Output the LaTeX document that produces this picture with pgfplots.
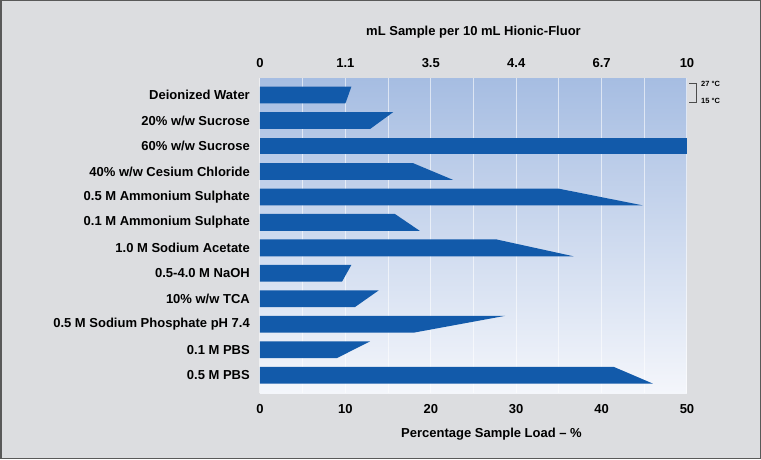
\documentclass[border=0pt]{standalone}
\usepackage{fontspec}
\setmainfont{Liberation Sans}
\usepackage{pgfplots}
\pgfplotsset{compat=1.18}
\definecolor{bgGray}{RGB}{220,221,224}
\definecolor{barBlue}{RGB}{18,90,170}
\definecolor{topBlue}{RGB}{166,189,226}
\definecolor{midBlue}{RGB}{200,213,237}
\definecolor{botBlue}{RGB}{244,246,251}
\begin{document}
\begin{tikzpicture}
\fill[bgGray] (0pt,0pt) rectangle (761pt,459pt);
\begin{axis}[
  at={(260pt,66pt)}, anchor=south west, scale only axis,
  width=427pt, height=315pt,
  xmin=0, xmax=50, ymin=0.33, ymax=12.7, y dir=reverse,
  axis line style={draw=none}, major tick length=0pt, minor tick length=0pt,
  axis background/.style={top color=topBlue, middle color=midBlue, bottom color=botBlue},
  xtick={0,10,20,30,40,50}, minor xtick={5,15,25,35,45},
  xmajorgrids, xminorgrids,
  major grid style={white, opacity=0.6, line width=1pt},
  minor grid style={white, opacity=0.6, line width=1pt},
  ytick={1,...,12},
  yticklabels={Deionized Water, 20\% w/w Sucrose, 60\% w/w Sucrose, 40\% w/w Cesium Chloride,
    0.5 M Ammonium Sulphate, 0.1 M Ammonium Sulphate, 1.0 M Sodium Acetate, 0.5-4.0 M NaOH,
    10\% w/w TCA, 0.5 M Sodium Phosphate pH 7.4, 0.1 M PBS, 0.5 M PBS},
  /pgf/number format/assume math mode=true,
  tick label style={font=\fontsize{13}{15}\selectfont\bfseries},
  yticklabel style={anchor=east, inner sep=0pt, xshift=-10pt},
  xticklabel style={inner sep=0pt, yshift=-11pt},
  xlabel={Percentage Sample Load -- \%},
  xlabel style={font=\fontsize{13}{15}\selectfont\bfseries, inner sep=0pt, yshift=-14pt, xshift=18pt},
]
\addplot[fill=barBlue, draw=none] coordinates {(0,0.67) (10.7,0.67) (10.0,1.33) (0,1.33)} -- cycle;
\addplot[fill=barBlue, draw=none] coordinates {(0,1.67) (15.6,1.67) (12.9,2.33) (0,2.33)} -- cycle;
\addplot[fill=barBlue, draw=none] coordinates {(0,2.67) (50,2.67) (50,3.33) (0,3.33)} -- cycle;
\addplot[fill=barBlue, draw=none] coordinates {(0,3.67) (17.9,3.67) (22.6,4.33) (0,4.33)} -- cycle;
\addplot[fill=barBlue, draw=none] coordinates {(0,4.67) (34.9,4.67) (44.8,5.33) (0,5.33)} -- cycle;
\addplot[fill=barBlue, draw=none] coordinates {(0,5.67) (15.8,5.67) (18.7,6.33) (0,6.33)} -- cycle;
\addplot[fill=barBlue, draw=none] coordinates {(0,6.67) (27.7,6.67) (36.7,7.33) (0,7.33)} -- cycle;
\addplot[fill=barBlue, draw=none] coordinates {(0,7.67) (10.7,7.67) (9.6,8.33) (0,8.33)} -- cycle;
\addplot[fill=barBlue, draw=none] coordinates {(0,8.67) (13.9,8.67) (11.1,9.33) (0,9.33)} -- cycle;
\addplot[fill=barBlue, draw=none] coordinates {(0,9.67) (28.7,9.67) (18.0,10.33) (0,10.33)} -- cycle;
\addplot[fill=barBlue, draw=none] coordinates {(0,10.67) (12.9,10.67) (9.0,11.33) (0,11.33)} -- cycle;
\addplot[fill=barBlue, draw=none] coordinates {(0,11.67) (41.4,11.67) (46.0,12.33) (0,12.33)} -- cycle;
\end{axis}
\begin{axis}[
  at={(260pt,66pt)}, anchor=south west, scale only axis,
  width=427pt, height=315pt,
  xmin=0, xmax=50, ymin=0, ymax=1,
  axis line style={draw=none}, major tick length=0pt,
  ytick=\empty, xticklabel pos=upper,
  xtick={0,10,20,30,40,50},
  xticklabels={0,1.1,3.5,4.4,6.7,10},
  tick label style={font=\fontsize{13}{15}\selectfont\bfseries},
  xticklabel style={inner sep=0pt, yshift=10pt},
  xlabel={mL Sample per 10 mL Hionic-Fluor},
  xlabel style={font=\fontsize{13}{15}\selectfont\bfseries, inner sep=0pt, yshift=20pt},
]
\end{axis}
\draw[black!70, line width=0.8pt] (689pt,376pt) -- (696pt,376pt) -- (696pt,357pt) -- (689pt,357pt);
\node[anchor=west, inner sep=0pt, font=\fontsize{7.5}{8}\selectfont\bfseries] at (701pt,375pt) {27 °C};
\node[anchor=west, inner sep=0pt, font=\fontsize{7.5}{8}\selectfont\bfseries] at (701pt,358pt) {15 °C};
\draw[black!65, line width=1.5pt] (0.75pt,0.75pt) rectangle (760.25pt,458.25pt);
\end{tikzpicture}
\end{document}
